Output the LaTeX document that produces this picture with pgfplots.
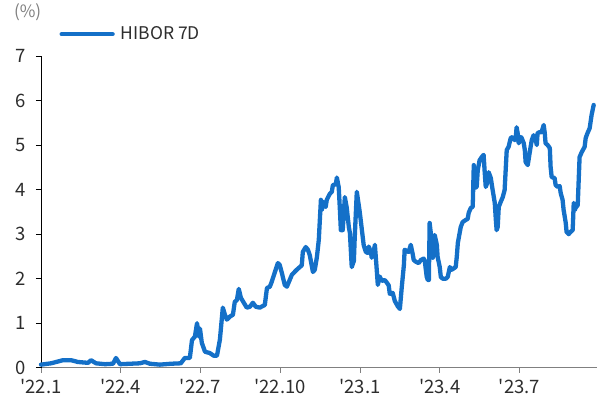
\documentclass[border=0pt]{standalone}
\usepackage{fontspec}
\newfontfamily\kfont{Noto Sans CJK KR}
\usepackage{pgfplots}
\pgfplotsset{compat=1.18}
\definecolor{hibor}{RGB}{20,112,200}
\definecolor{txt}{RGB}{45,45,45}
\definecolor{axgray}{RGB}{128,128,128}
\begin{document}
\begin{tikzpicture}
\begin{axis}[
  scale only axis, width=556bp, height=312bp,
  xmin=0, xmax=20.9, ymin=0, ymax=7,
  axis x line*=bottom, axis y line*=left,
  x axis line style={axgray, line width=0.8pt},
  y axis line style={black, line width=0.8pt},
  xtick={0,3,6,9,12,15,18},
  xticklabels={'22.1,'22.4,'22.7,'22.10,'23.1,'23.4,'23.7},
  ytick={0,1,...,7},
  tick align=outside, major tick length=5bp,
  x tick style={axgray, line width=0.8pt},
  y tick style={black, line width=0.8pt},
  tick label style={font=\kfont\fontsize{18.5bp}{21bp}\selectfont, text=txt},
  /pgf/number format/assume math mode=true,
  yticklabel style={xshift=-7bp},
  xticklabel style={yshift=-3bp},
  clip=false,
  legend style={draw=none, fill=none, at={(0.033,1.07)}, anchor=west,
    inner sep=0pt, font=\kfont\fontsize{17.5bp}{20bp}\selectfont, text=txt},
  legend image code/.code={\draw[#1] (0bp,0bp) -- (51bp,0bp);},
]
\addplot[hibor, line width=4.3bp, line join=round, line cap=round] coordinates {
(0.00,0.07) (0.38,0.10) (0.83,0.17) (1.13,0.17) (1.39,0.13) (1.77,0.11)
(1.88,0.17) (2.07,0.10) (2.41,0.08) (2.71,0.09) (2.82,0.22) (2.97,0.08)
(3.72,0.10) (3.91,0.13) (4.10,0.09) (4.47,0.07) (4.89,0.09) (5.26,0.10)
(5.41,0.22) (5.60,0.22) (5.68,0.62) (5.79,0.70) (5.87,1.00) (5.94,0.70)
(5.98,0.88) (6.05,0.56) (6.17,0.36) (6.35,0.33) (6.50,0.27) (6.62,0.27)
(6.73,0.63) (6.84,1.35) (6.92,1.19) (6.99,1.08) (7.11,1.15) (7.22,1.19)
(7.29,1.48) (7.37,1.52) (7.44,1.77) (7.52,1.57) (7.63,1.46) (7.74,1.35)
(7.86,1.37) (7.97,1.46) (8.08,1.37) (8.23,1.35) (8.42,1.41) (8.50,1.79)
(8.61,1.82) (8.68,1.93) (8.80,2.15) (8.91,2.35) (8.98,2.31) (9.06,2.13)
(9.17,1.86) (9.25,1.82) (9.44,2.09) (9.62,2.20) (9.81,2.30) (9.85,2.60)
(9.96,2.71) (10.04,2.65) (10.11,2.53) (10.23,2.15) (10.30,2.20) (10.38,2.49)
(10.45,2.87) (10.53,3.77) (10.56,3.54) (10.64,3.72) (10.71,3.61) (10.75,3.77)
(10.86,3.90) (10.94,3.95) (10.98,4.10) (11.09,4.12) (11.13,4.27) (11.20,4.05)
(11.24,3.60) (11.28,3.09) (11.35,3.09) (11.43,3.83) (11.50,3.60) (11.58,3.16)
(11.62,3.03) (11.69,2.26) (11.77,2.40) (11.80,2.90) (11.88,3.95) (11.99,3.50)
(12.07,3.10) (12.14,2.75) (12.22,2.60) (12.29,2.58) (12.33,2.72) (12.41,2.60)
(12.44,2.47) (12.52,2.62) (12.56,2.76) (12.63,2.20) (12.67,1.86) (12.74,2.05)
(12.82,1.95) (12.93,1.97) (13.01,1.91) (13.08,1.85) (13.12,1.66) (13.23,1.68)
(13.31,1.50) (13.42,1.38) (13.50,1.32) (13.57,1.80) (13.65,2.30) (13.68,2.65)
(13.76,2.62) (13.83,2.60) (13.91,2.76) (13.99,2.53) (14.02,2.42) (14.10,2.38)
(14.21,2.35) (14.29,2.42) (14.40,2.45) (14.44,2.38) (14.51,2.04) (14.55,1.97)
(14.59,1.97) (14.62,3.25) (14.70,2.83) (14.74,2.47) (14.77,2.71) (14.81,2.98)
(14.89,2.76) (14.92,2.49) (15.00,2.26) (15.04,2.04) (15.11,2.00) (15.23,2.00)
(15.30,2.04) (15.38,2.26) (15.45,2.20) (15.60,2.26) (15.64,2.49) (15.68,2.80)
(15.75,3.03) (15.79,3.16) (15.86,3.27) (15.98,3.32) (16.05,3.34) (16.09,3.48)
(16.17,3.59) (16.24,3.61) (16.28,4.55) (16.32,4.04) (16.39,4.06) (16.43,4.44)
(16.50,4.66) (16.58,4.73) (16.65,4.78) (16.69,4.40) (16.73,4.06) (16.80,4.17)
(16.84,4.39) (16.92,4.26) (16.99,3.99) (17.07,3.70) (17.11,3.32) (17.14,3.09)
(17.18,3.16) (17.22,3.61) (17.29,3.72) (17.37,3.83) (17.44,3.99) (17.48,4.44)
(17.52,4.89) (17.59,4.96) (17.67,5.16) (17.74,5.18) (17.82,5.11) (17.86,5.16)
(17.89,5.40) (17.93,5.27) (17.97,5.04) (18.05,5.18) (18.08,5.16) (18.16,5.04)
(18.20,4.89) (18.23,4.62) (18.31,4.55) (18.38,4.82) (18.46,5.11) (18.53,5.22)
(18.61,5.11) (18.65,5.00) (18.68,5.27) (18.76,5.29) (18.83,5.29) (18.91,5.45)
(18.95,5.27) (18.98,5.04) (19.06,5.00) (19.14,4.93) (19.17,4.51) (19.21,4.28)
(19.32,4.26) (19.36,4.10) (19.44,4.06) (19.51,4.08) (19.55,3.92) (19.62,3.77)
(19.66,3.54) (19.74,3.25) (19.77,3.05) (19.85,3.00) (19.92,3.05) (20.00,3.09)
(20.04,3.70) (20.08,3.54) (20.11,3.59) (20.19,3.65) (20.26,4.73) (20.34,4.84)
(20.45,4.96) (20.49,5.16) (20.56,5.27) (20.64,5.38) (20.71,5.67) (20.79,5.90)
};
\addlegendentry{\hspace{4bp}HIBOR 7D}
\node[font=\kfont\fontsize{17bp}{20bp}\selectfont, text=axgray, anchor=center]
  at (rel axis cs:-0.024,1.141) {(\%)};
\end{axis}
\useasboundingbox (-41bp,-48bp) rectangle (556bp,368bp);
\end{tikzpicture}
\end{document}
